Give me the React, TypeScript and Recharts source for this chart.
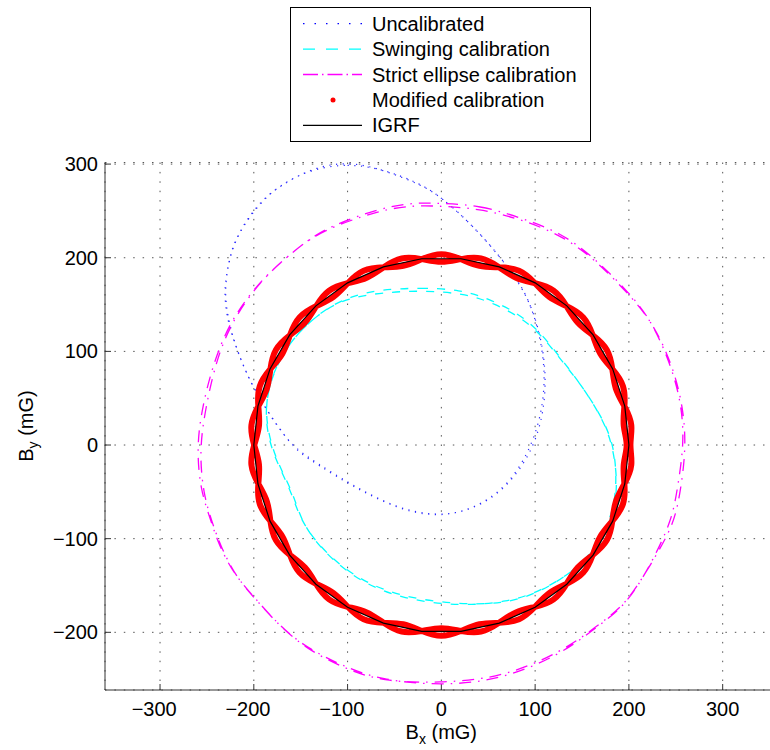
import { CartesianGrid, Legend, Scatter, ScatterChart, XAxis, YAxis } from "recharts";

type Pt = [number, number];

const FONT = '"Liberation Sans", Arial, Helvetica, sans-serif';
const MINUS = "\u2212";

const X_TICKS = [-300, -200, -100, 0, 100, 200, 300];
const Y_TICKS = [-200, -100, 0, 100, 200, 300];

// Field readings in mG, two turns of the loop for each data set
const uncalibrated: Pt[] = [
  [-140, 294], [-100, 301], [-60, 294], [-25, 280], [-4, 268], [31, 237], [63, 201],
  [90, 165], [104, 123], [111, 80], [108, 37], [95, -5], [70, -45], [35, -68],
  [-1, -77], [-44, -70], [-97, -43], [-130, -22], [-154, -7], [-172, 16], [-200, 59],
  [-217, 98], [-226, 128], [-231, 158], [-229, 184], [-222, 219], [-195, 259], [-172, 277],
  [-136, 297], [-96, 303], [-57, 292], [-22, 278], [0, 265], [35, 233], [66, 197],
  [92, 160], [106, 118], [112, 75], [109, 32], [96, -9], [68, -48], [32, -70],
  [-4, -76], [-48, -68], [-100, -40], [-133, -19], [-157, -3], [-176, 21], [-203, 64],
  [-219, 104], [-228, 132], [-232, 163], [-228, 190], [-219, 224], [-191, 262], [-168, 280],
];

const swinging: Pt[] = [
  [-65, 166], [-23, 168], [20, 166], [52, 156], [95, 134], [127, 93], [148, 66],
  [173, 27], [184, -5], [189, -51], [178, -90], [155, -125], [110, -155], [70, -168],
  [20, -172], [-40, -165], [-90, -145], [-130, -110], [-150, -80], [-158, -51], [-175, -19],
  [-186, 16], [-188, 55], [-168, 105], [-130, 142], [-100, 157],
  [-62, 163], [-20, 165], [23, 162], [56, 152], [98, 129], [129, 89], [151, 62],
  [176, 22], [186, -10], [187, -56], [175, -94], [150, -129], [105, -158], [65, -170],
  [15, -170], [-45, -162], [-94, -141], [-133, -106], [-152, -76], [-161, -47], [-178, -14],
  [-188, 21], [-186, 62], [-164, 110], [-126, 145], [-96, 159],
];

const strictEllipse: Pt[] = [
  [0, 258], [41, 256], [84, 243], [127, 227], [162, 201], [198, 165], [223, 135],
  [244, 88], [256, 45], [259, 2], [252, -45], [246, -80], [226, -122], [210, -150],
  [191, -176], [162, -197], [127, -224], [63, -251], [0, -257], [-65, -251], [-105, -236],
  [-143, -217], [-172, -194], [-200, -162], [-222, -137], [-238, -105], [-246, -80], [-257, -48],
  [-261, -2], [-255, 41], [-243, 88], [-225, 133], [-193, 176], [-160, 205], [-129, 229],
  [-65, 251], [-30, 256],
  [3, 255], [44, 252], [88, 240], [130, 223], [165, 197], [201, 160], [226, 130],
  [247, 84], [258, 40], [261, -3], [255, -50], [248, -84], [229, -118], [212, -146],
  [194, -172], [165, -194], [130, -220], [66, -248], [3, -254], [-62, -253], [-102, -239],
  [-140, -220], [-169, -197], [-197, -166], [-219, -141], [-235, -109], [-244, -84], [-254, -52],
  [-258, -6], [-252, 37], [-240, 92], [-221, 137], [-189, 180], [-156, 208], [-125, 232],
  [-62, 254], [-27, 259],
];

// two passes that wind around each other along the reference circle
const modified: Pt[] = [
  [200, 0], [204.9, 21.5], [195.6, 41.6], [184.5, 59.9], [182.7, 81.3], [178.4, 103], [161.8, 117.6],
  [144.2, 129.8], [133.8, 148.6], [121.1, 166.7], [100, 173.2], [78.9, 177.2], [61.8, 190.2], [42.8, 201.5],
  [20.9, 198.9], [0, 194], [-20.9, 198.9], [-42.8, 201.5], [-61.8, 190.2], [-78.9, 177.2], [-100, 173.2],
  [-121.1, 166.7], [-133.8, 148.6], [-144.2, 129.8], [-161.8, 117.6], [-178.4, 103], [-182.7, 81.3], [-184.5, 59.9],
  [-195.6, 41.6], [-204.9, 21.5], [-200, 0], [-192.9, -20.3], [-195.6, -41.6], [-195.9, -63.7], [-182.7, -81.3],
  [-168, -97], [-161.8, -117.6], [-153.1, -137.8], [-133.8, -148.6], [-114, -156.9], [-100, -173.2], [-83.8, -188.2],
  [-61.8, -190.2], [-40.3, -189.8], [-20.9, -198.9], [0, -206], [20.9, -198.9], [40.3, -189.8], [61.8, -190.2],
  [83.8, -188.2], [100, -173.2], [114, -156.9], [133.8, -148.6], [153.1, -137.8], [161.8, -117.6], [168, -97],
  [182.7, -81.3], [195.9, -63.7], [195.6, -41.6], [192.9, -20.3],
  [200, 0], [192.9, 20.3], [195.6, 41.6], [195.9, 63.7], [182.7, 81.3], [168, 97], [161.8, 117.6],
  [153.1, 137.8], [133.8, 148.6], [114, 156.9], [100, 173.2], [83.8, 188.2], [61.8, 190.2], [40.3, 189.8],
  [20.9, 198.9], [0, 206], [-20.9, 198.9], [-40.3, 189.8], [-61.8, 190.2], [-83.8, 188.2], [-100, 173.2],
  [-114, 156.9], [-133.8, 148.6], [-153.1, 137.8], [-161.8, 117.6], [-168, 97], [-182.7, 81.3], [-195.9, 63.7],
  [-195.6, 41.6], [-192.9, 20.3], [-200, 0], [-204.9, -21.5], [-195.6, -41.6], [-184.5, -59.9], [-182.7, -81.3],
  [-178.4, -103], [-161.8, -117.6], [-144.2, -129.8], [-133.8, -148.6], [-121.1, -166.7], [-100, -173.2], [-78.9, -177.2],
  [-61.8, -190.2], [-42.8, -201.5], [-20.9, -198.9], [0, -194], [20.9, -198.9], [42.8, -201.5], [61.8, -190.2],
  [78.9, -177.2], [100, -173.2], [121.1, -166.7], [133.8, -148.6], [144.2, -129.8], [161.8, -117.6], [178.4, -103],
  [182.7, -81.3], [184.5, -59.9], [195.6, -41.6], [204.9, -21.5],
];

const igrf: Pt[] = [
  [200, 0], [195.6, 41.6], [182.7, 81.3], [161.8, 117.6], [133.8, 148.6], [100, 173.2],
  [61.8, 190.2], [20.9, 198.9], [-20.9, 198.9], [-61.8, 190.2], [-100, 173.2], [-133.8, 148.6],
  [-161.8, 117.6], [-182.7, 81.3], [-195.6, 41.6], [-200, 0], [-195.6, -41.6], [-182.7, -81.3],
  [-161.8, -117.6], [-133.8, -148.6], [-100, -173.2], [-61.8, -190.2], [-20.9, -198.9], [20.9, -198.9],
  [61.8, -190.2], [100, -173.2], [133.8, -148.6], [161.8, -117.6], [182.7, -81.3], [195.6, -41.6],
];

const toXY = (pts: Pt[]) => pts.map(([x, y]) => ({ x, y }));
const fmtTick = (v: number) => (v < 0 ? MINUS + Math.abs(v) : String(v));
const noMarker = () => <g />;

// digits sit centred under the tick, a minus sign hangs off to the left
function XTick(props: any) {
  const { x, y, payload } = props;
  const v = payload.value as number;
  const half = String(Math.abs(v)).length * 5.56;
  return (
    <text x={x + half} y={y} dy={14.2} textAnchor="end" fontFamily={FONT} fontSize={20} fill="#000">
      {fmtTick(v)}
    </text>
  );
}

function XTitle() {
  return (
    <text x={441.3} y={739} textAnchor="middle" fontFamily={FONT} fontSize={20} fill="#000">
      B<tspan fontSize={14} dy={5}>x</tspan>
      <tspan dy={-5}> (mG)</tspan>
    </text>
  );
}

function YTitle() {
  return (
    <text
      x={33}
      y={426}
      transform="rotate(-90, 33, 426)"
      textAnchor="middle"
      fontFamily={FONT}
      fontSize={20}
      fill="#000"
    >
      B<tspan fontSize={14} dy={5}>y</tspan>
      <tspan dy={-5}> (mG)</tspan>
    </text>
  );
}

const LEGEND_ROWS = [
  { name: "Uncalibrated", color: "#0000ff", dash: "1.5 10", kind: "line" },
  { name: "Swinging calibration", color: "#00ffff", dash: "12 11", kind: "line" },
  { name: "Strict ellipse calibration", color: "#ff00ff", dash: "15 4 1.5 4", kind: "line" },
  { name: "Modified calibration", color: "#ff0000", dash: "", kind: "dot" },
  { name: "IGRF", color: "#000000", dash: "", kind: "line" },
];

function LegendBox() {
  return (
    <div
      style={{
        width: 301,
        height: 135,
        boxSizing: "border-box",
        border: "1px solid #000",
        background: "#fff",
      }}
    >
      <svg width={299} height={133} style={{ display: "block" }}>
        {LEGEND_ROWS.map((row, i) => {
          const base = 22.7 + 25.4 * i;
          const mid = base - 7;
          return (
            <g key={row.name}>
              {row.kind === "dot" ? (
                <circle cx={42} cy={mid} r={2.5} fill={row.color} />
              ) : (
                <line
                  x1={12}
                  x2={71}
                  y1={mid}
                  y2={mid}
                  stroke={row.color}
                  strokeWidth={1.3}
                  strokeDasharray={row.dash || undefined}
                />
              )}
              <text x={81} y={base} fontFamily={FONT} fontSize={20} fill="#000">
                {row.name}
              </text>
            </g>
          );
        })}
      </svg>
    </div>
  );
}

export default function App() {
  return (
    <div style={{ position: "absolute", left: 0, top: 0, width: 770, height: 750, overflow: "hidden", background: "#fff" }}>
      <ScatterChart width={778} height={750} margin={{ top: 162.5, right: 0, bottom: 30, left: 45 }}>
        <CartesianGrid stroke="#555" strokeDasharray="1.5 7.9" />
        <XAxis
          type="number"
          dataKey="x"
          domain={[-358.7, 359]}
          ticks={X_TICKS}
          allowDataOverflow
          height={30}
          tickSize={-6}
          tickMargin={18}
          tick={<XTick />}
          axisLine={{ stroke: "#333" }}
          tickLine={{ stroke: "#333" }}
          label={<XTitle />}
        />
        <YAxis
          type="number"
          dataKey="y"
          domain={[-261.6, 301.7]}
          ticks={Y_TICKS}
          allowDataOverflow
          width={60}
          tickSize={-6}
          tickMargin={13}
          tickFormatter={fmtTick}
          tick={{ fontSize: 20, fill: "#000", fontFamily: FONT }}
          axisLine={{ stroke: "#333" }}
          tickLine={{ stroke: "#333" }}
          label={<YTitle />}
        />
        <Legend
          layout="vertical"
          align="center"
          verticalAlign="middle"
          content={() => <LegendBox />}
          wrapperStyle={{ left: 290, top: 7, width: 301, height: 135 }}
        />
        <Scatter
          name="Uncalibrated"
          data={toXY(uncalibrated)}
          fill="#0000ff"
          line={{ stroke: "#2a2aff", strokeWidth: 1.2, strokeDasharray: "1.2 5.5" }}
          lineJointType="basisClosed"
          shape={noMarker}
          isAnimationActive={false}
        />
        <Scatter
          name="Swinging calibration"
          data={toXY(swinging)}
          fill="#00ffff"
          line={{ stroke: "#00ffff", strokeWidth: 1.3, strokeDasharray: "8 9" }}
          lineJointType="basisClosed"
          shape={noMarker}
          isAnimationActive={false}
        />
        <Scatter
          name="Strict ellipse calibration"
          data={toXY(strictEllipse)}
          fill="#ff00ff"
          line={{ stroke: "#ff00ff", strokeWidth: 1.3, strokeDasharray: "12 7 1.5 7" }}
          lineJointType="basisClosed"
          shape={noMarker}
          isAnimationActive={false}
        />
        <Scatter
          name="Modified calibration"
          data={toXY(modified)}
          fill="#ff0000"
          line={{ stroke: "#ff0000", strokeWidth: 6, strokeLinejoin: "round" }}
          lineJointType="basisClosed"
          shape={noMarker}
          isAnimationActive={false}
        />
        <Scatter
          name="IGRF"
          data={toXY(igrf)}
          fill="#000000"
          line={{ stroke: "#000000", strokeWidth: 1.2 }}
          lineJointType="linearClosed"
          shape={noMarker}
          isAnimationActive={false}
        />
      </ScatterChart>
    </div>
  );
}
